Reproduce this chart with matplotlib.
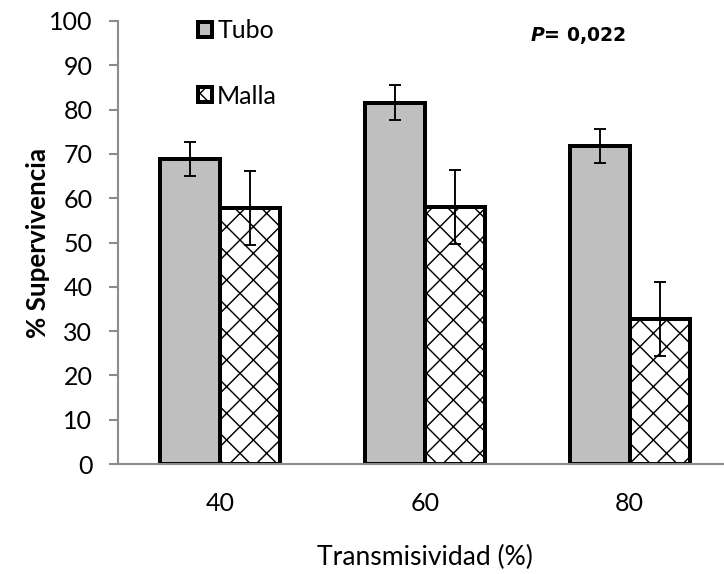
import matplotlib
matplotlib.use("Agg")
import matplotlib.pyplot as plt
from matplotlib.patches import Patch
import numpy as np

plt.rcParams['font.family'] = ['Lato', 'DejaVu Sans']
plt.rcParams['hatch.linewidth'] = 1.3

categories = ["40", "60", "80"]
tubo = [68.8, 81.6, 71.8]
tubo_err = [3.85, 3.85, 3.9]
malla = [57.8, 58.1, 32.7]
malla_err = [8.4, 8.35, 8.4]
yticks = [0, 10, 20, 30, 40, 50, 60, 70, 80, 90, 100]

DPI = 80
fig = plt.figure(figsize=(724/DPI, 574/DPI), dpi=DPI)
ax = fig.add_axes([118/724, 110/574, 614/724, 443/574])

x = np.arange(len(categories))
w = 0.293
ax.bar(x - w/2, tubo, w, color="#bfbfbf", edgecolor="black", linewidth=3.6, zorder=2)
ax.bar(x + w/2, malla, w, color="white", edgecolor="black", linewidth=3.6, hatch="x", zorder=2)
ax.errorbar(x - w/2, tubo, yerr=tubo_err, fmt="none", ecolor="black", elinewidth=1.7, capsize=5.4, capthick=1.7, zorder=3)
ax.errorbar(x + w/2, malla, yerr=malla_err, fmt="none", ecolor="black", elinewidth=1.7, capsize=5.4, capthick=1.7, zorder=3)

ax.set_xlim(-0.5, 2.5)
ax.set_ylim(0, 100)
ax.set_yticks(yticks)
ax.set_xticks(x)
ax.set_xticklabels(categories)
for s in ["top", "right"]:
    ax.spines[s].set_visible(False)
for s in ["left", "bottom"]:
    ax.spines[s].set_color("#8c8c8c")
    ax.spines[s].set_linewidth(1.9)
ax.tick_params(axis="y", direction="out", length=8, width=1.9, color="#8c8c8c", labelsize=22.5, pad=15)
ax.tick_params(axis="x", length=0, labelsize=22.5, pad=25)

ax.set_ylabel("% Supervivencia", fontsize=23.4, fontweight="bold", labelpad=-1)
ax.set_xlabel("Transmisividad (%)", fontsize=23.8, labelpad=27)

handles = [Patch(facecolor="#bfbfbf", edgecolor="black", linewidth=3.6),
           Patch(facecolor="white", edgecolor="black", linewidth=3.6, hatch="x")]
ax.legend(handles, ["Tubo", "Malla"], loc="upper left", bbox_to_anchor=(0.094, 1.055),
          frameon=False, fontsize=22.5, labelspacing=1.7, handlelength=0.56, handleheight=0.56,
          handletextpad=0.2)

ax.text(0.671, 0.968, "$\\mathbfit{P}$= 0,022", transform=ax.transAxes, fontsize=17,
        fontweight="heavy", ha="left", va="center", family="DejaVu Sans")

fig.savefig("out.png", dpi=DPI)
